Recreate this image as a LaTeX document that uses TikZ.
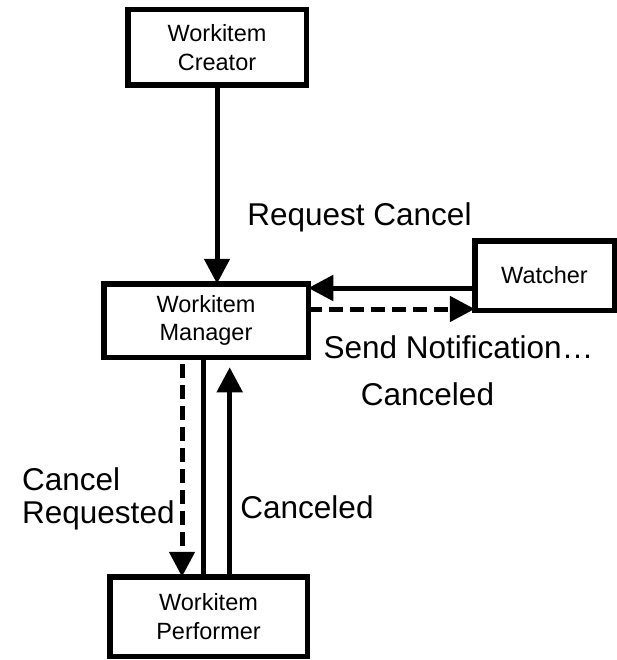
\documentclass[tikz,border=0pt]{standalone}
\usepackage{fontspec}
\setmainfont{Liberation Sans}
\usetikzlibrary{arrows.meta}
\begin{document}
\begin{tikzpicture}[x=1pt,y=-1pt,
  box/.style={draw, line width=5.5pt, fill=white, inner sep=0pt, outer sep=0pt,
    align=center, font=\fontsize{23.5}{28.5}\selectfont},
  conn/.style={line width=5pt},
  arr/.style={conn, -{Triangle[length=25pt,width=25pt]}},
  dsh/.style={dash pattern=on 14pt off 7pt},
  lbl/.style={inner sep=0pt, font=\fontsize{31.5}{33}\selectfont}]
\useasboundingbox (0,0) rectangle (617,660);

% boxes
\node[box, minimum width=178.5pt, minimum height=75.5pt] (creator) at (217,47.5) {Workitem\\Creator};
\node[box, minimum width=204.5pt, minimum height=73.5pt] (manager) at (206,320.5) {Workitem\\Manager};
\node[box, minimum width=139.5pt, minimum height=69.5pt] (watcher) at (544.5,275.5) {Watcher};
\node[box, minimum width=197.5pt, minimum height=79.5pt] (performer) at (208.5,616.5) {Workitem\\Performer};

% creator -> manager
\draw[arr] (creator.south) -- (creator.south |- manager.north);

% watcher <-> manager
\draw[arr] ([yshift=-12.5pt]watcher.west) coordinate (w1) -- (manager.east |- w1);
\draw[arr, dsh] ([yshift=11.5pt]manager.east) coordinate (m1) -- (watcher.west |- m1);

% manager <-> performer
\draw[arr, dsh, dash phase=14pt] ([xshift=-24pt]manager.south) coordinate (d1) -- (d1 |- performer.north);
\draw[conn] ([xshift=-2.7pt]manager.south) coordinate (p1) -- (p1 |- performer.north);
\draw[arr, shorten >=10pt] ([xshift=21.2pt]performer.north) coordinate (c1) -- (c1 |- manager.south);

% labels
\node[lbl, anchor=base] (lreq) at (359.5,225) {Request Cancel};
\node[lbl, anchor=base] (lsend) at (458.5,358) {Send Notification…};
\node[lbl, anchor=base] (lcan1) at (427.5,405) {Canceled};
\node[lbl, anchor=base west] (lcr1) at (22,490) {Cancel};
\node[lbl, anchor=base west] (lcr2) at (22,523) {Requested};
\node[lbl, anchor=base] (lcan2) at (307,518) {Canceled};
\end{tikzpicture}
\end{document}
